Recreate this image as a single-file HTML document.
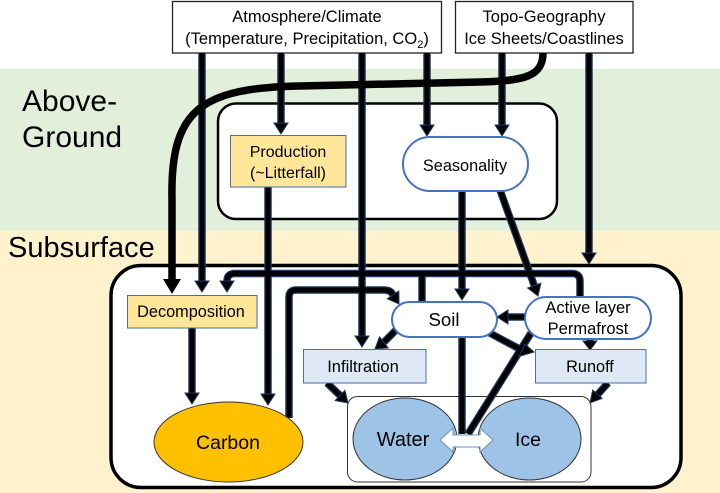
<!DOCTYPE html>
<html><head><meta charset="utf-8"><style>
html,body{margin:0;padding:0;background:#fff;}
svg{display:block;}
text{font-family:"Liberation Sans",Arial,sans-serif;fill:#000;}
</style></head><body>
<svg width="720" height="493" viewBox="0 0 720 493" xmlns="http://www.w3.org/2000/svg">
<rect x="0" y="0" width="720" height="493" fill="#fff"/>
<rect x="0" y="69" width="720" height="162" fill="#e2efda"/>
<rect x="0" y="231" width="720" height="262" fill="#fff2cc"/>

<text x="22" y="111" font-size="30">Above-</text>
<text x="22" y="147" font-size="30">Ground</text>
<text x="8" y="257" font-size="29">Subsurface</text>

<rect x="172.5" y="1.5" width="269" height="51.5" fill="#fff" stroke="#222" stroke-width="1.3"/>
<rect x="455.5" y="1.5" width="177.5" height="51.5" fill="#fff" stroke="#222" stroke-width="1.3"/>
<text x="307" y="22" font-size="16.5" text-anchor="middle">Atmosphere/Climate</text>
<text x="307" y="44" font-size="16.5" text-anchor="middle">(Temperature, Precipitation, CO<tspan font-size="11" dy="4">2</tspan><tspan dy="-4">)</tspan></text>
<text x="544" y="22" font-size="16.5" text-anchor="middle">Topo-Geography</text>
<text x="544" y="44" font-size="16.5" text-anchor="middle">Ice Sheets/Coastlines</text>

<rect x="218" y="103.5" width="339" height="115.5" rx="18" fill="#fff" stroke="#000" stroke-width="2.5"/>
<rect x="111" y="265.5" width="570" height="222" rx="30" fill="#fff" stroke="#000" stroke-width="3.5"/>

<rect x="347.5" y="396.5" width="243.5" height="85.5" rx="10" fill="#fff" stroke="#333" stroke-width="1"/>

<defs>
<g id="conns" fill="none">
<path d="M202 53 V282"/>
<path d="M281 53 V124"/>
<path d="M362 53 V337"/>
<path d="M427 53 V126"/>
<path d="M502 53 V126"/>
<path d="M589 53 V254"/>
<path d="M268 187 V395"/>
<path d="M192 328 V393"/>
<path d="M289 418 V297 Q289 290 296 290 L384 290 Q391 290 393 295"/>
<path d="M580 298 V281 Q580 273.5 572 273.5 L235 273.5 Q227 273.5 227 281 V282"/>
<path d="M422 273 V303"/>
<path d="M462 191 V290"/>
<path d="M500 190 L534.3 285.6"/>
<path d="M525 317 H508"/>
<path d="M400 326 L383.8 342.3"/>
<path d="M486 331 L522 350.3"/>
<path d="M590 336 V341"/>
<path d="M462 337 V434"/>
<path d="M531 333 L468 434"/>
<path d="M327 383 L340 395.4"/>
<path d="M608 383 L597.4 394.8"/>
</g>
<g id="heads">
<polygon points="195,281 209,281 202,292"/>
<polygon points="274,123 288,123 281,134"/>
<polygon points="355,336 369,336 362,347"/>
<polygon points="420,125 434,125 427,136"/>
<polygon points="495,125 509,125 502,136"/>
<polygon points="582,253 596,253 589,264"/>
<polygon points="261,394 275,394 268,405"/>
<polygon points="185,393 199,393 192,404"/>
<polygon points="387.2,298.8 398.8,291.0 399,304"/>
<polygon points="220,281 234,281 227,292"/>
<polygon points="455,289 469,289 462,300"/>
<polygon points="527.7,288 540.9,283.2 538,296"/>
<polygon points="508,310 508,324 497,317"/>
<polygon points="379.5,336.8 388.2,347.9 375,349"/>
<polygon points="519.0,356.5 525.0,344.0 534,352"/>
<polygon points="583,341 597,341 590,350"/>
<polygon points="335.2,400.5 344.9,390.4 348,403"/>
<polygon points="592.7,390.1 602.1,398.4 590,403"/>
</g>
</defs>

<use href="#conns" stroke="#1f3864" stroke-width="7.5"/>
<use href="#conns" stroke="#000" stroke-width="5"/>
<use href="#heads" fill="#000" stroke="#1f3864" stroke-width="1"/>

<!-- big curve -->
<path d="M543 53 C543 76 525 81 480 82 L300 86 C200 88 170 110 172 200 L172 280" fill="none" stroke="#000" stroke-width="7.5"/>
<polygon points="163,279 181,279 172,294" fill="#000"/>

<!-- nodes -->
<rect x="230.5" y="135.5" width="115.5" height="51.5" fill="#ffe699" stroke="#4a6fa5" stroke-width="1"/>
<text x="288" y="157" font-size="16" text-anchor="middle">Production</text>
<text x="288" y="178" font-size="16" text-anchor="middle">(~Litterfall)</text>

<rect x="403" y="137" width="125" height="54" rx="27" fill="#fff" stroke="#4472c4" stroke-width="2"/>
<text x="465" y="171" font-size="16.3" text-anchor="middle">Seasonality</text>

<rect x="127.5" y="295.5" width="129.5" height="32.5" fill="#ffe699" stroke="#4a6fa5" stroke-width="1"/>
<text x="191" y="317" font-size="16.3" text-anchor="middle">Decomposition</text>

<ellipse cx="228.5" cy="442" rx="74.5" ry="40" fill="#ffc000" stroke="#333" stroke-width="1"/>
<text x="228" y="449" font-size="19.5" text-anchor="middle">Carbon</text>

<rect x="303.5" y="349.5" width="122.5" height="33.5" fill="#dee9f5" stroke="#4a6fa5" stroke-width="1"/>
<text x="363" y="372" font-size="16.5" text-anchor="middle">Infiltration</text>

<rect x="535.5" y="349.5" width="110.5" height="33.5" fill="#dee9f5" stroke="#4a6fa5" stroke-width="1"/>
<text x="590" y="372" font-size="16.3" text-anchor="middle">Runoff</text>

<rect x="392" y="302" width="105" height="35" rx="17.5" fill="#fff" stroke="#4472c4" stroke-width="2"/>
<text x="444" y="326" font-size="18.6" text-anchor="middle">Soil</text>

<rect x="525" y="297" width="126" height="42" rx="21" fill="#fff" stroke="#4472c4" stroke-width="2"/>
<text x="588" y="313" font-size="16.5" text-anchor="middle">Active layer</text>
<text x="588" y="334" font-size="16.5" text-anchor="middle">Permafrost</text>

<ellipse cx="405" cy="439" rx="52" ry="41" fill="#9dc3e6" stroke="#333" stroke-width="1"/>
<ellipse cx="529.5" cy="439" rx="51.5" ry="41" fill="#9dc3e6" stroke="#333" stroke-width="1"/>
<text x="403" y="446" font-size="20" text-anchor="middle">Water</text>
<text x="528" y="446" font-size="19.5" text-anchor="middle">Ice</text>

<polygon points="440,440 453,428 453,435 480,435 480,428 493,440 480,452 480,447 453,447 453,452" fill="#fff" stroke="#6f8fb8" stroke-width="1"/>
</svg>
</body></html>
